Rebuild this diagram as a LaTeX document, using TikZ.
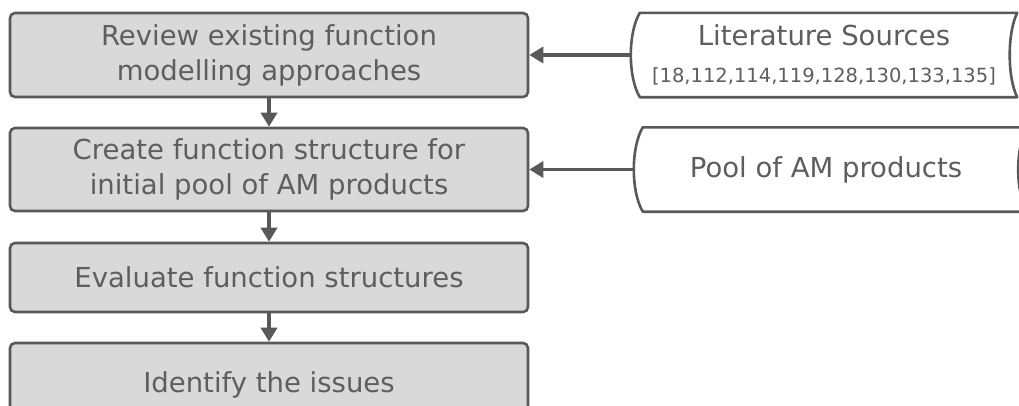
\documentclass[tikz,border=0pt]{standalone}
\usepackage{fontspec}
\setmainfont{DejaVu Sans}
\usetikzlibrary{arrows.meta}
\definecolor{edgegray}{HTML}{595959}
\definecolor{txtgray}{HTML}{5E5E5E}
\definecolor{boxfill}{HTML}{D9D9D9}
\newcommand{\refsize}{\fontsize{19.5}{22}\selectfont}
\tikzset{
  stepbox/.style={draw=edgegray, fill=boxfill, line width=2.6pt, rounded corners=5pt,
    minimum width=518pt, inner sep=0pt, align=center, text=txtgray,
    font=\fontsize{27.5}{35}\selectfont},
  srcbox/.style={inner sep=0pt, align=center, text=txtgray,
    font=\fontsize{27.5}{35}\selectfont},
  srcshape/.style={draw=edgegray, fill=white, line width=2.6pt, line join=round},
  conn/.style={draw=edgegray, line width=3.6pt, -{Triangle[width=16pt,length=14pt]}}
}
\begin{document}
\begin{tikzpicture}[x=1pt,y=-1pt]
\fill[white] (0,0) rectangle (1019,405);
\clip (0,0) rectangle (1019,405);
% process boxes
\node[stepbox, minimum height=84pt] (b1) at (269,55) {Review existing function\\modelling approaches};
\node[stepbox, minimum height=83pt] (b2) at (269,169.5) {Create function structure for\\initial pool of AM products};
\node[stepbox, minimum height=69pt] (b3) at (269,277.5) {Evaluate function structures};
\node[stepbox, minimum height=84pt] (b4) at (269,385) {Identify the issues};
% source boxes (stored data)
\node[srcbox, minimum width=385pt, minimum height=84pt] (lit) at (824.5,55) {};
\draw[srcshape] ([xshift=8pt]lit.north west) -- (lit.north east)
  .. controls +(-10,20) and +(-10,-20) .. (lit.south east)
  -- ([xshift=8pt]lit.south west)
  .. controls +(-12,-20) and +(-12,20) .. ([xshift=8pt]lit.north west) -- cycle;
\node[srcbox] (littext) at (824,54.5) {Literature Sources\\[2pt]{\refsize [18,112,114,119,128,130,133,135]}};
\node[srcbox, minimum width=392pt, minimum height=84pt] (pool) at (831,169.5) {};
\draw[srcshape] ([xshift=8pt]pool.north west) -- (pool.north east)
  .. controls +(-12,20) and +(-12,-20) .. (pool.south east)
  -- ([xshift=8pt]pool.south west)
  .. controls +(-12,-20) and +(-12,20) .. ([xshift=8pt]pool.north west) -- cycle;
\node[srcbox] (pooltext) at (826,169.5) {Pool of AM products};
% connectors
\draw[conn] (b1.south) -- (b2.north);
\draw[conn] (b2.south) -- (b3.north);
\draw[conn] (b3.south) -- (b4.north);
\draw[conn] (lit.west) -- (b1.east);
\draw[conn] (pool.west) -- (b2.east);
\end{tikzpicture}
\end{document}
